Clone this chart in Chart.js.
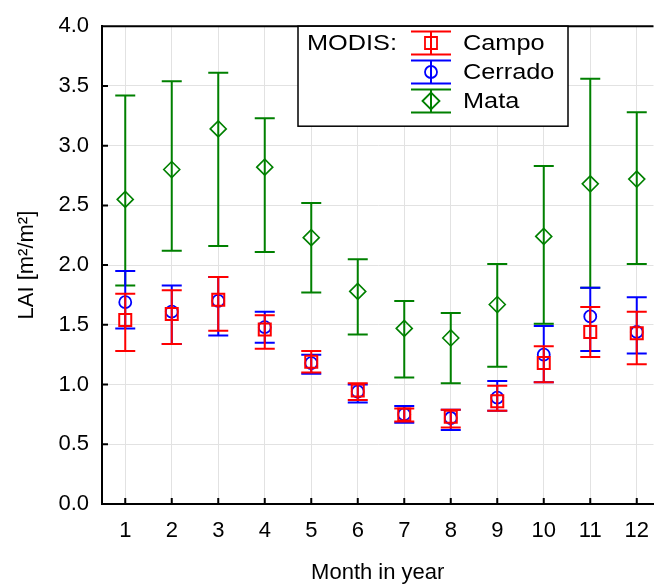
<!DOCTYPE html>
<html>
<head>
<meta charset="utf-8">
<script src="https://cdn.jsdelivr.net/npm/chart.js@4"></script>
<style>
  body { margin: 0; background: #fff; }
</style>
</head>
<body>
<canvas id="laiChart" width="664" height="586"></canvas>
<script>
// Months on the x axis
const months = [1, 2, 3, 4, 5, 6, 7, 8, 9, 10, 11, 12];
const yTicks = [0, 0.5, 1, 1.5, 2, 2.5, 3, 3.5, 4];

// MODIS LAI per vegetation type: mean, lower and upper end of the bar
const campoMean = [1.54, 1.59, 1.71, 1.46, 1.19, 0.95, 0.75, 0.73, 0.86, 1.18, 1.44, 1.43];
const campoLow  = [1.28, 1.34, 1.45, 1.30, 1.10, 0.87, 0.69, 0.64, 0.78, 1.02, 1.23, 1.17];
const campoHigh = [1.76, 1.79, 1.90, 1.58, 1.28, 1.01, 0.80, 0.79, 0.99, 1.32, 1.65, 1.61];

const cerradoMean = [1.69, 1.61, 1.70, 1.48, 1.18, 0.94, 0.75, 0.72, 0.89, 1.25, 1.57, 1.44];
const cerradoLow  = [1.47, 1.34, 1.41, 1.35, 1.09, 0.85, 0.68, 0.62, 0.78, 1.02, 1.28, 1.26];
const cerradoHigh = [1.95, 1.83, 1.90, 1.61, 1.25, 1.00, 0.82, 0.79, 1.03, 1.49, 1.81, 1.73];

const mataMean = [2.55, 2.80, 3.14, 2.82, 2.23, 1.78, 1.47, 1.39, 1.67, 2.24, 2.68, 2.72];
const mataLow  = [1.83, 2.12, 2.16, 2.11, 1.77, 1.42, 1.06, 1.01, 1.15, 1.51, 1.81, 2.01];
const mataHigh = [3.42, 3.54, 3.61, 3.23, 2.52, 2.05, 1.70, 1.60, 2.01, 2.83, 3.56, 3.28];

const FONT = '"Liberation Sans", Arial, sans-serif';
const RED = '#ff0000', BLUE = '#0000ff', GREEN = '#008000';

// Turn the arrays into points with their bar ends
function makePoints(mean, low, high) {
  let pts = [];
  for (let i = 0; i < months.length; i++) {
    pts.push({ x: months[i], y: mean[i], low: low[i], high: high[i] });
  }
  return pts;
}

// Draw the error bars of a dataset just before its markers
const errorBars = {
  id: 'errorBars',
  beforeDatasetDraw(chart, args) {
    const ds = chart.data.datasets[args.index];
    const ctx = chart.ctx;
    const xs = chart.scales.x, ys = chart.scales.y;
    ctx.save();
    ctx.strokeStyle = ds.borderColor;
    ctx.lineWidth = 2;
    ds.data.forEach(function(p) {
      const px = xs.getPixelForValue(p.x);
      const top = ys.getPixelForValue(p.high);
      const bot = ys.getPixelForValue(p.low);
      ctx.beginPath();
      ctx.moveTo(px, top); ctx.lineTo(px, bot);
      ctx.moveTo(px - 10, top); ctx.lineTo(px + 10, top);
      ctx.moveTo(px - 10, bot); ctx.lineTo(px + 10, bot);
      ctx.stroke();
    });
    ctx.restore();
  }
};

// legend text is a bit wider than the axis text in the original
function wideText(ctx, text, x, y) {
  ctx.save();
  ctx.translate(x, y);
  ctx.scale(1.15, 1);
  ctx.fillText(text, 0, 0);
  ctx.restore();
}

// Top frame line, inward tick marks and the boxed legend
const frameAndLegend = {
  id: 'frameAndLegend',
  afterDraw(chart) {
    const ctx = chart.ctx;
    const area = chart.chartArea;
    const xs = chart.scales.x, ys = chart.scales.y;
    ctx.save();
    ctx.strokeStyle = '#000';
    ctx.lineWidth = 2;
    ctx.beginPath();
    ctx.moveTo(area.left - 1, area.top); ctx.lineTo(area.right, area.top);
    // inward ticks
    yTicks.forEach(function(v) {
      const py = ys.getPixelForValue(v);
      ctx.moveTo(area.left, py); ctx.lineTo(area.left + 6, py);
    });
    months.forEach(function(m) {
      const px = xs.getPixelForValue(m);
      ctx.moveTo(px, area.bottom); ctx.lineTo(px, area.bottom - 6);
    });
    ctx.stroke();

    // legend box
    const bx = 298, by = area.top, bw = 270, bh = 100;
    ctx.fillStyle = '#fff';
    ctx.fillRect(bx, by, bw, bh);
    ctx.lineWidth = 1.5;
    ctx.strokeRect(bx, by, bw, bh);

    ctx.fillStyle = '#000';
    ctx.font = '22px ' + FONT;
    ctx.textBaseline = 'middle';
    ctx.textAlign = 'left';
    wideText(ctx, 'MODIS:', 307, 44);

    const entries = [
      { name: 'Campo', color: RED, style: 'rect', y: 43 },
      { name: 'Cerrado', color: BLUE, style: 'circle', y: 72 },
      { name: 'Mata', color: GREEN, style: 'rectRot', y: 101 }
    ];
    entries.forEach(function(e) {
      const cx = 431;
      ctx.strokeStyle = e.color;
      ctx.lineWidth = 2;
      ctx.beginPath();
      ctx.moveTo(cx - 20, e.y - 11.5); ctx.lineTo(cx + 20, e.y - 11.5);
      ctx.moveTo(cx - 20, e.y + 11.5); ctx.lineTo(cx + 20, e.y + 11.5);
      ctx.moveTo(cx, e.y - 11.5); ctx.lineTo(cx, e.y + 11.5);
      ctx.stroke();
      ctx.lineWidth = 1.8;
      ctx.fillStyle = 'rgba(0,0,0,0)';
      Chart.helpers.drawPoint(ctx, { pointStyle: e.style, radius: e.style === 'circle' ? 6 : 8.5, rotation: 0, borderWidth: 1.8 }, cx, e.y);
      ctx.fillStyle = '#000';
      wideText(ctx, e.name, 463, e.y + 1);
    });
    ctx.restore();
  }
};

const data = {
  datasets: [
    {
      label: 'Campo',
      data: makePoints(campoMean, campoLow, campoHigh),
      borderColor: RED,
      backgroundColor: 'rgba(0,0,0,0)',
      pointStyle: 'rect',
      pointRadius: 8.5,
      pointBorderWidth: 2
    },
    {
      label: 'Cerrado',
      data: makePoints(cerradoMean, cerradoLow, cerradoHigh),
      borderColor: BLUE,
      backgroundColor: 'rgba(0,0,0,0)',
      pointStyle: 'circle',
      pointRadius: 6,
      pointBorderWidth: 1.8
    },
    {
      label: 'Mata',
      data: makePoints(mataMean, mataLow, mataHigh),
      borderColor: GREEN,
      backgroundColor: 'rgba(0,0,0,0)',
      pointStyle: 'rectRot',
      pointRadius: 8,
      pointBorderWidth: 1.6
    }
  ]
};

new Chart(document.getElementById('laiChart'), {
  type: 'scatter',
  data: data,
  plugins: [errorBars, frameAndLegend],
  options: {
    responsive: false,
    animation: false,
    layout: { padding: { left: 0, top: 23, right: 0, bottom: 0 } },
    plugins: {
      legend: { display: false },
      tooltip: { enabled: false }
    },
    scales: {
      x: {
        type: 'linear',
        min: 0.5,
        max: 12.36,
        afterBuildTicks: function(scale) {
          scale.ticks = months.map(function(m) { return { value: m }; });
        },
        afterFit: function(scale) { scale.height = 82; },
        grid: { color: '#e2e2e2', lineWidth: 1, drawTicks: false },
        border: { color: '#000', width: 2 },
        ticks: {
          color: '#000',
          font: { family: FONT, size: 22 },
          padding: 14,
          maxRotation: 0,
          autoSkip: false,
          callback: function(v) { return String(v); }
        },
        title: {
          display: true,
          text: 'Month in year',
          color: '#000',
          font: { family: FONT, size: 22 },
          padding: { top: 0, bottom: 0 }
        }
      },
      y: {
        min: 0,
        max: 4,
        afterBuildTicks: function(scale) {
          scale.ticks = yTicks.map(function(v) { return { value: v }; });
        },
        afterFit: function(scale) { scale.width = 102; },
        grid: { color: '#e2e2e2', lineWidth: 1, drawTicks: false },
        border: { color: '#000', width: 2 },
        ticks: {
          color: '#000',
          font: { family: FONT, size: 22 },
          padding: 13,
          callback: function(v) { return v.toFixed(1); }
        },
        title: {
          display: true,
          text: 'LAI [m²/m²]',
          color: '#000',
          font: { family: FONT, size: 22 },
          padding: { top: 14, bottom: 0 }
        }
      }
    }
  }
});
</script>
</body>
</html>
